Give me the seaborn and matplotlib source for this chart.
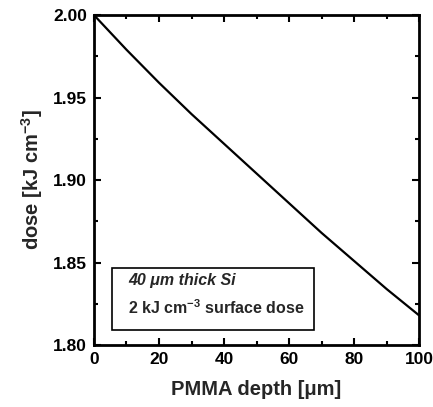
import numpy as np
import pandas as pd
import matplotlib
matplotlib.use("Agg")
import matplotlib.pyplot as plt
from matplotlib.patches import Rectangle
from matplotlib.ticker import MultipleLocator
import seaborn as sns

# values
depth = [0, 10, 20, 30, 40, 50, 60, 70, 80, 90, 100]
dose = [2.000, 1.979, 1.959, 1.940, 1.922, 1.904, 1.886, 1.868, 1.851, 1.834, 1.818]

sns.set_theme(style="ticks")
plt.rcParams['font.family'] = ['Liberation Sans', 'DejaVu Sans']
plt.rcParams['font.weight'] = 'bold'
plt.rcParams['mathtext.fontset'] = 'custom'
plt.rcParams['mathtext.rm'] = 'Liberation Sans:bold'
plt.rcParams['mathtext.it'] = 'Liberation Sans:bold:italic'
plt.rcParams['mathtext.bf'] = 'Liberation Sans:bold'

df = pd.DataFrame({'depth': depth, 'dose': dose})

fig = plt.figure(figsize=(4.33, 4.07), dpi=100)
ax = fig.add_axes([0.217, 0.152, 0.751, 0.811])

sns.lineplot(data=df, x='depth', y='dose', ax=ax, color='black', linewidth=1.6)

ax.set_xlim(0, 100)
ax.set_ylim(1.80, 2.00)
ax.xaxis.set_major_locator(MultipleLocator(20))
ax.xaxis.set_minor_locator(MultipleLocator(10))
ax.yaxis.set_major_locator(MultipleLocator(0.05))
ax.yaxis.set_minor_locator(MultipleLocator(0.025))
ax.yaxis.set_major_formatter(matplotlib.ticker.FormatStrFormatter('%.2f'))

for s in ax.spines.values():
    s.set_linewidth(2)
    s.set_color('black')
ax.tick_params(which='both', direction='in', top=True, right=True,
               width=1.5, colors='black', labelsize=12.5)
ax.tick_params(which='major', length=5, pad=5)
ax.tick_params(which='minor', length=3)
for lab in ax.get_xticklabels() + ax.get_yticklabels():
    lab.set_fontweight('bold')

ax.set_xlabel('PMMA depth [\u03bcm]', fontsize=14.5, fontweight='bold', labelpad=9)
ax.set_ylabel('dose [kJ cm$^{-3}$]', fontsize=14.5, fontweight='bold', labelpad=6)

ax.add_patch(Rectangle((0.055, 0.045), 0.622, 0.188, transform=ax.transAxes,
                       fill=False, edgecolor='black', linewidth=1.2))
ax.text(0.105, 0.195, '40 \u03bcm thick Si', transform=ax.transAxes,
        fontsize=11.5, fontweight='bold', fontstyle='italic', va='center')
ax.text(0.105, 0.115, '2 kJ cm$^{-3}$ surface dose', transform=ax.transAxes,
        fontsize=11.5, fontweight='bold', va='center')

fig.savefig('out.png', dpi=100, facecolor='white')
